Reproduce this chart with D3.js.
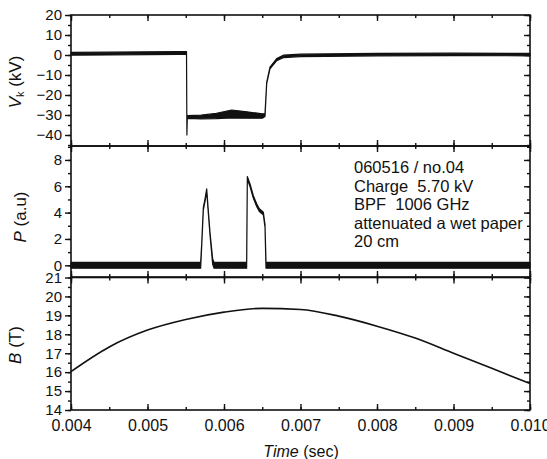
<!DOCTYPE html>
<html>
<head>
<meta charset="utf-8">
<script src="https://cdn.jsdelivr.net/npm/d3@7"></script>
<style>
  html, body { margin: 0; padding: 0; background: #fff; }
  svg { display: block; }
  text { font-family: "Liberation Sans", Arial, sans-serif; fill: #111; white-space: pre; }
</style>
</head>
<body>
<svg id="chart" width="547" height="459"></svg>
<script>
// ---------------- DATA ----------------
const xTicks = [0.004, 0.005, 0.006, 0.007, 0.008, 0.009, 0.010];
const xTickLabels = ["0.004", "0.005", "0.006", "0.007", "0.008", "0.009", "0.010"];

// Vk (kV): time, centre value, noise half-width
const vkTime  = [0.0040, 0.0045, 0.0050, 0.0054, 0.00551, 0.005515, 0.00552, 0.0057, 0.0059, 0.0061, 0.0063, 0.0065, 0.006536, 0.006558, 0.006601, 0.006689, 0.006775, 0.0070, 0.0080, 0.0090, 0.0100];
const vkValue = [0.6, 0.7, 0.9, 1.0, 1.0, -40, -31, -31, -30.5, -29.5, -30, -30.5, -30, -14, -6.5, -2.3, -0.7, -0.2, 0.2, 0.3, 0.2];
const vkNoise = [0.7, 0.7, 0.7, 0.7, 0.7, 0.0, 0.7, 0.9, 1.3, 2.0, 1.6, 1.1, 0.7, 0.3, 0.4, 0.5, 0.6, 0.6, 0.6, 0.6, 0.6];
const vkTicks = [20, 10, 0, -10, -20, -30, -40];

// P (a.u.)
const pTime  = [0.0040, 0.005695, 0.005708, 0.00573, 0.005752, 0.005774, 0.005795, 0.005817, 0.005852, 0.00587, 0.006296, 0.006305, 0.00634, 0.006383, 0.006427, 0.006462, 0.006514, 0.006536, 0.006549, 0.0100];
const pValue = [0, 0, 1.5, 4.3, 4.95, 5.7, 4.06, 2.4, 0.27, 0, 0, 6.64, 6.08, 5.2, 4.57, 4.19, 3.94, 3.0, 0, 0];
const pNoise = [0.22, 0.22, 0.1, 0.1, 0.1, 0.1, 0.1, 0.1, 0.2, 0.22, 0.22, 0.1, 0.1, 0.1, 0.1, 0.1, 0.1, 0.1, 0.22, 0.22];
const pTicks = [0, 2, 4, 6, 8];

// B (T)
const bTime  = [0.0040, 0.0045, 0.0050, 0.0055, 0.0060, 0.0065, 0.0070, 0.0075, 0.0080, 0.0085, 0.0090, 0.0095, 0.0100];
const bValue = [16.03, 17.33, 18.22, 18.78, 19.17, 19.37, 19.31, 18.96, 18.43, 17.8, 17.0, 16.2, 15.4];
const bTicks = [14, 15, 16, 17, 18, 19, 20, 21];

const legendLines = ["060516 / no.04", "Charge  5.70 kV", "BPF  1006 GHz", "attenuated a wet paper", "20 cm"];

// ---------------- LAYOUT ----------------
const svg = d3.select("#chart");
const L = 71, R = 530;
const x = d3.scaleLinear().domain([0.004, 0.010]).range([L, R]);

const panels = [
  { top: 15, bottom: 146, domain: [-45.5, 20], ticks: vkTicks, minorStep: 5 },
  { top: 146, bottom: 277, domain: [-0.89, 9.06], ticks: pTicks, minorStep: 1 },
  { top: 277.5, bottom: 410, domain: [14, 21], ticks: bTicks, minorStep: 0.5 }
];
panels.forEach(p => { p.y = d3.scaleLinear().domain(p.domain).range([p.bottom, p.top]); });

const ink = "#111";
const xMinor = d3.range(0.004, 0.01001, 0.0005);

function minorTicks(p) {
  const out = [];
  const start = Math.ceil(p.domain[0] / p.minorStep) * p.minorStep;
  for (let v = start; v <= p.domain[1] + 1e-9; v += p.minorStep) out.push(+v.toFixed(4));
  return out;
}

panels.forEach((p, i) => {
  const g = svg.append("g");
  if (i === 0) drawNoisy(g, p, vkTime, vkValue, vkNoise);
  if (i === 1) drawNoisy(g, p, pTime, pValue, pNoise);
  if (i === 2) {
    const line = d3.line().x((d, k) => x(bTime[k])).y(d => p.y(d)).curve(d3.curveMonotoneX);
    g.append("path").attr("d", line(bValue)).attr("fill", "none").attr("stroke", ink).attr("stroke-width", 1.6);
  }

  g.append("rect").attr("x", L).attr("y", p.top).attr("width", R - L).attr("height", p.bottom - p.top)
    .attr("fill", "none").attr("stroke", ink).attr("stroke-width", 1.6);

  const minors = minorTicks(p);
  g.append("g").attr("transform", `translate(${L},0)`).call(d3.axisLeft(p.y).tickValues(minors).tickSize(3).tickFormat(""));
  g.append("g").attr("class", "ylab").attr("transform", `translate(${L},0)`)
    .call(d3.axisLeft(p.y).tickValues(p.ticks).tickSize(6).tickPadding(3).tickFormat(d3.format("d")));
  g.append("g").attr("transform", `translate(${R},0)`).call(d3.axisLeft(p.y).tickValues(minors).tickSize(3).tickFormat(""));
  g.append("g").attr("transform", `translate(${R},0)`).call(d3.axisLeft(p.y).tickValues(p.ticks).tickSize(6).tickFormat(""));
  g.append("g").attr("transform", `translate(0,${p.top})`).call(d3.axisBottom(x).tickValues(xMinor).tickSize(3).tickFormat(""));
  g.append("g").attr("transform", `translate(0,${p.top})`).call(d3.axisBottom(x).tickValues(xTicks).tickSize(6).tickFormat(""));
  g.append("g").attr("transform", `translate(0,${p.bottom})`).call(d3.axisTop(x).tickValues(xMinor).tickSize(3).tickFormat(""));
  g.append("g").attr("transform", `translate(0,${p.bottom})`).call(d3.axisTop(x).tickValues(xTicks).tickSize(6).tickFormat(""));
});

const xl = d3.axisBottom(x).tickValues(xTicks).tickSize(0).tickPadding(10).tickFormat((d, i) => xTickLabels[i]);
svg.append("g").attr("class", "xlab").attr("transform", `translate(0,${panels[2].bottom})`).call(xl);

svg.selectAll(".domain").remove();
svg.selectAll(".tick line").attr("stroke", ink).attr("stroke-width", 1.4);
svg.selectAll(".ylab text").attr("font-size", 15).attr("font-family", "Liberation Sans, Arial, sans-serif").attr("fill", ink);
svg.selectAll(".xlab text").attr("font-size", 16).attr("font-family", "Liberation Sans, Arial, sans-serif").attr("fill", ink);

function drawNoisy(g, p, t, v, n) {
  const area = d3.area().x((d, k) => x(t[k])).y0((d, k) => p.y(v[k] - n[k])).y1((d, k) => p.y(v[k] + n[k]));
  g.append("path").attr("d", area(v)).attr("fill", ink).attr("stroke", ink).attr("stroke-width", 1.2).attr("stroke-linejoin", "round");
}

function yTitle(cx, cy, parts) {
  const t = svg.append("text").attr("transform", `translate(${cx},${cy}) rotate(-90)`)
    .attr("text-anchor", "middle").attr("font-size", 17);
  parts.forEach(pt => {
    const s = t.append("tspan").text(pt.s);
    if (pt.it) s.attr("font-style", "italic");
    if (pt.sub) s.attr("font-size", 11).attr("baseline-shift", "-25%");
  });
}
yTitle(21, 82, [{ s: "V", it: true }, { s: "k", sub: true }, { s: " (kV)" }]);
yTitle(26, 217, [{ s: "P", it: true }, { s: " (a.u)" }]);
yTitle(21, 345, [{ s: "B", it: true }, { s: " (T)" }]);

const xt = svg.append("text").attr("x", 301).attr("y", 457).attr("text-anchor", "middle").attr("font-size", 16);
xt.append("tspan").attr("font-style", "italic").text("Time");
xt.append("tspan").text(" (sec)");

const lg = svg.append("g");
legendLines.forEach((s, i) => {
  lg.append("text").attr("x", 354).attr("y", 173 + i * 18.6).attr("font-size", 16.5).text(s);
});
</script>
</body>
</html>
